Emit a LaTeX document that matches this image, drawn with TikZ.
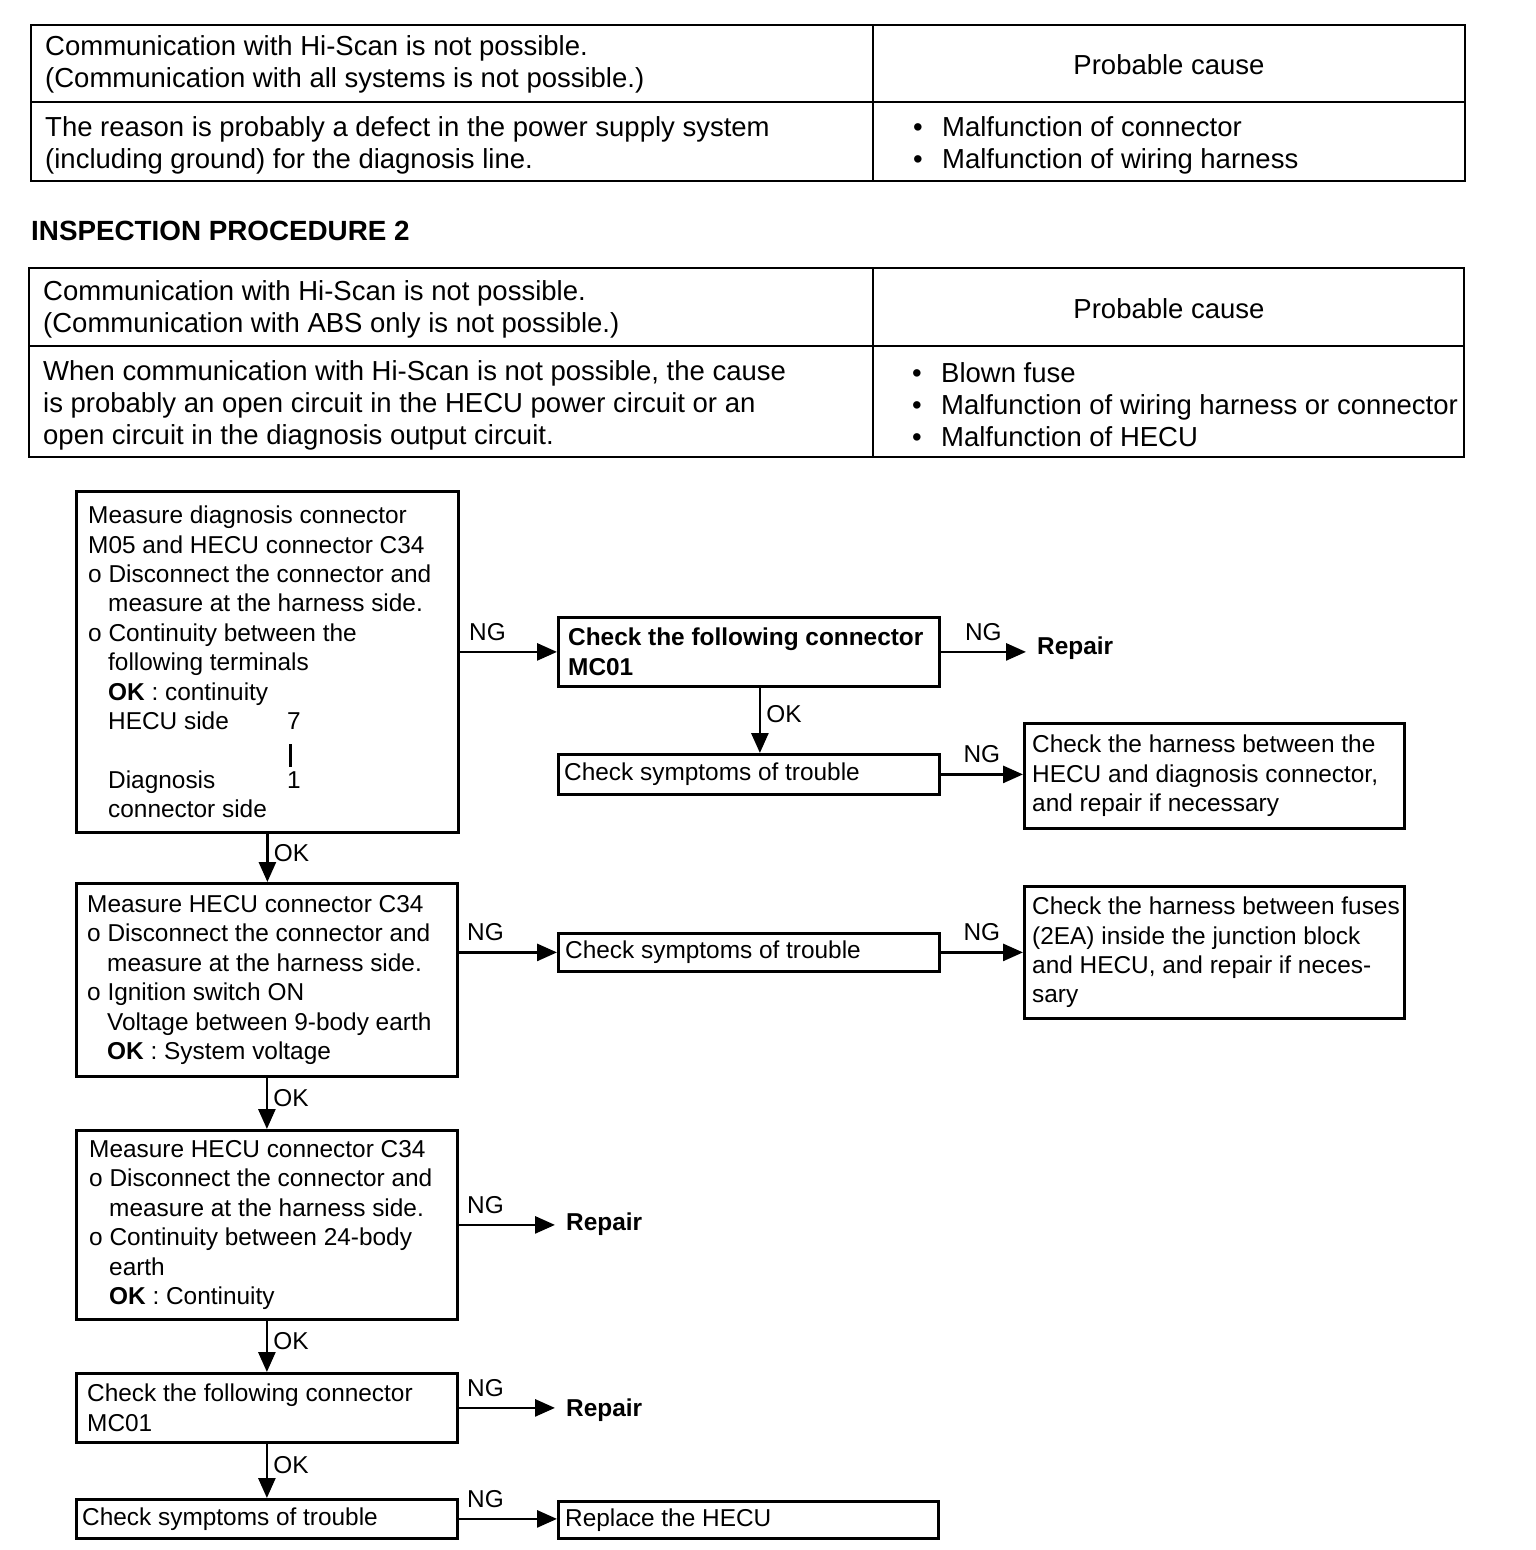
\documentclass[tikz,border=0pt]{standalone}
\usepackage{fontspec}
\setmainfont{Liberation Sans}
\usetikzlibrary{arrows.meta}
\newcommand\bulmark{\makebox[29pt][l]{•}}
\newcommand\indt{\hspace*{20pt}}
\begin{document}
\begin{tikzpicture}[x=1pt,y=-1pt,
  box/.style={draw, line width=2.8pt, anchor=north west, inner sep=0pt},
  ftxt/.style={font=\fontsize{24.4}{29.4}\selectfont, align=left, inner sep=0pt, anchor=west},
  fbold/.style={ftxt, font=\fontsize{24.4}{29.4}\selectfont\bfseries},
  ttxt/.style={font=\fontsize{27.5}{32}\selectfont, align=left, inner sep=0pt},
  arr/.style={line width=2.8pt, -{Triangle[length=20pt,width=17pt]}},
  lbl/.style={font=\fontsize{24.4}{29}\selectfont, inner sep=0pt},
  rep/.style={font=\fontsize{24.4}{29}\selectfont\bfseries, inner xsep=11pt, inner ysep=0pt, anchor=west},
  tline/.style={line width=2.4pt}]
\useasboundingbox (0,0) rectangle (1536,1550);
\fill[white] (0,0) rectangle (1536,1550);

% ---------- Table 1
\draw[tline] (31,25) rectangle (1465,181);
\draw[tline] (31,102) -- (1465,102);
\draw[tline] (873,25) -- (873,181);
\node[ttxt, anchor=west] (p1a) at (45,64.5) {Communication with Hi-Scan is not possible.\\(Communication with all systems is not possible.)};
\node[ttxt] (p1b) at (1169,65) {Probable cause};
\node[ttxt, anchor=west] (p1c) at (45,145) {The reason is probably a defect in the power supply system\\(including ground) for the diagnosis line.};
\node[ttxt, anchor=west] (p1d) at (913,145) {\bulmark Malfunction of connector\\\bulmark Malfunction of wiring harness};

% ---------- Header
\node[font=\fontsize{27.8}{32}\selectfont\bfseries, inner sep=0pt, anchor=west] (hdr) at (31,231) {INSPECTION PROCEDURE 2};

% ---------- Table 2
\draw[tline] (29,268) rectangle (1464,457);
\draw[tline] (29,346) -- (1464,346);
\draw[tline] (873,268) -- (873,457);
\node[ttxt, anchor=west] (p2a) at (43,309) {Communication with Hi-Scan is not possible.\\(Communication with ABS only is not possible.)};
\node[ttxt] (p2b) at (1169,309) {Probable cause};
\node[ttxt, anchor=west] (p2c) at (43,405) {When communication with Hi-Scan is not possible, the cause\\is probably an open circuit in the HECU power circuit or an\\open circuit in the diagnosis output circuit.};
\node[ttxt, anchor=west] (p2d) at (912,405) {\bulmark Blown fuse\\\bulmark Malfunction of wiring harness or connector\\\bulmark Malfunction of HECU};

% ---------- Flowchart boxes
\node[box, minimum width=382pt, minimum height=341pt] (b1) at (75,490) {};
\node[ftxt] (t1) at ([xshift=13pt]b1.west) {Measure diagnosis connector\\M05 and HECU connector C34\\o Disconnect the connector and\\\indt measure at the harness side.\\o Continuity between the\\\indt following terminals\\\indt\textbf{OK} : continuity\\\indt\makebox[179pt][l]{HECU side}7\\\indt\hspace*{181pt}\rule[-8pt]{3pt}{23pt}\\\indt\makebox[179pt][l]{Diagnosis}1\\\indt connector side};

\node[box, minimum width=381pt, minimum height=69pt] (b2) at (557,616) {};
\node[fbold] (t2) at ([xshift=11pt]b2.west) {Check the following connector\\MC01};

\node[box, minimum width=381pt, minimum height=40pt] (b3) at (557,753) {};
\node[ftxt] (t3) at ([xshift=7pt]b3.west) {Check symptoms of trouble};

\node[box, minimum width=380pt, minimum height=105pt] (b4) at (1023,722) {};
\node[ftxt] (t4) at ([xshift=9pt]b4.west) {Check the harness between the\\HECU and diagnosis connector,\\and repair if necessary};

\node[box, minimum width=381pt, minimum height=193pt] (b5) at (75,882) {};
\node[ftxt] (t5) at ([xshift=12pt]b5.west) {Measure HECU connector C34\\o Disconnect the connector and\\\indt measure at the harness side.\\o Ignition switch ON\\\indt Voltage between 9-body earth\\\indt\textbf{OK} : System voltage};

\node[box, minimum width=381pt, minimum height=38pt] (b6) at (557,932) {};
\node[ftxt] (t6) at ([xshift=8pt]b6.west) {Check symptoms of trouble};

\node[box, minimum width=380pt, minimum height=132pt] (b7) at (1023,885) {};
\node[ftxt] (t7) at ([xshift=9pt]b7.west) {Check the harness between fuses\\(2EA) inside the junction block\\and HECU, and repair if neces-\\sary};

\node[box, minimum width=381pt, minimum height=189pt] (b8) at (75,1129) {};
\node[ftxt] (t8) at ([xshift=14pt]b8.west) {Measure HECU connector C34\\o Disconnect the connector and\\\indt measure at the harness side.\\o Continuity between 24-body\\\indt earth\\\indt\textbf{OK} : Continuity};

\node[box, minimum width=381pt, minimum height=69pt] (b9) at (75,1372) {};
\node[ftxt] (t9) at ([xshift=12pt]b9.west) {Check the following connector\\MC01};

\node[box, minimum width=381pt, minimum height=39pt] (b10) at (75,1498) {};
\node[ftxt] (t10) at ([xshift=7pt]b10.west) {Check symptoms of trouble};

\node[box, minimum width=380pt, minimum height=37pt] (b11) at (557,1500) {};
\node[ftxt] (t11) at ([xshift=8pt]b11.west) {Replace the HECU};

% Repair targets
\node[rep] (r1) at (1026,648) {Repair};
\node[rep] (r2) at (555,1224) {Repair};
\node[rep] (r3) at (555,1410) {Repair};

% ---------- Connectors
\draw[arr] (b2.west -| b1.east) -- node[lbl, pos=0, anchor=south west, xshift=8pt, yshift=10pt]{NG} (b2.west);
\draw[arr] (b2.east) -- node[lbl, midway, above=10pt]{NG} (b2.east -| r1.west);
\draw[arr] ([xshift=11pt]b2.south) -- node[lbl, pos=0.4, anchor=west, xshift=5pt]{OK} ([xshift=11pt]b2.south |- b3.north);
\draw[arr] (b3.east) -- node[lbl, midway, above=10pt]{NG} (b3.east -| b4.west);

\draw[arr] (b1.south) -- node[lbl, pos=0.4, anchor=west, xshift=5pt]{OK} (b1.south |- b5.north);
\draw[arr] (b6.west -| b5.east) -- node[lbl, pos=0, anchor=south west, xshift=7pt, yshift=10pt]{NG} (b6.west);
\draw[arr] (b6.east) -- node[lbl, midway, above=10pt]{NG} (b6.east -| b7.west);

\draw[arr] (b5.south) -- node[lbl, pos=0.4, anchor=west, xshift=5pt]{OK} (b5.south |- b8.north);
\draw[arr] (b8.east) -- node[lbl, pos=0, anchor=south west, xshift=7pt, yshift=10pt]{NG} (b8.east -| r2.west);

\draw[arr] (b8.south) -- node[lbl, pos=0.4, anchor=west, xshift=5pt]{OK} (b8.south |- b9.north);
\draw[arr] (b9.east) -- node[lbl, pos=0, anchor=south west, xshift=7pt, yshift=10pt]{NG} (b9.east -| r3.west);

\draw[arr] (b9.south) -- node[lbl, pos=0.4, anchor=west, xshift=5pt]{OK} (b9.south |- b10.north);
\draw[arr] (b10.east) -- node[lbl, pos=0, anchor=south west, xshift=7pt, yshift=10pt]{NG} (b10.east -| b11.west);
\end{tikzpicture}
\end{document}
